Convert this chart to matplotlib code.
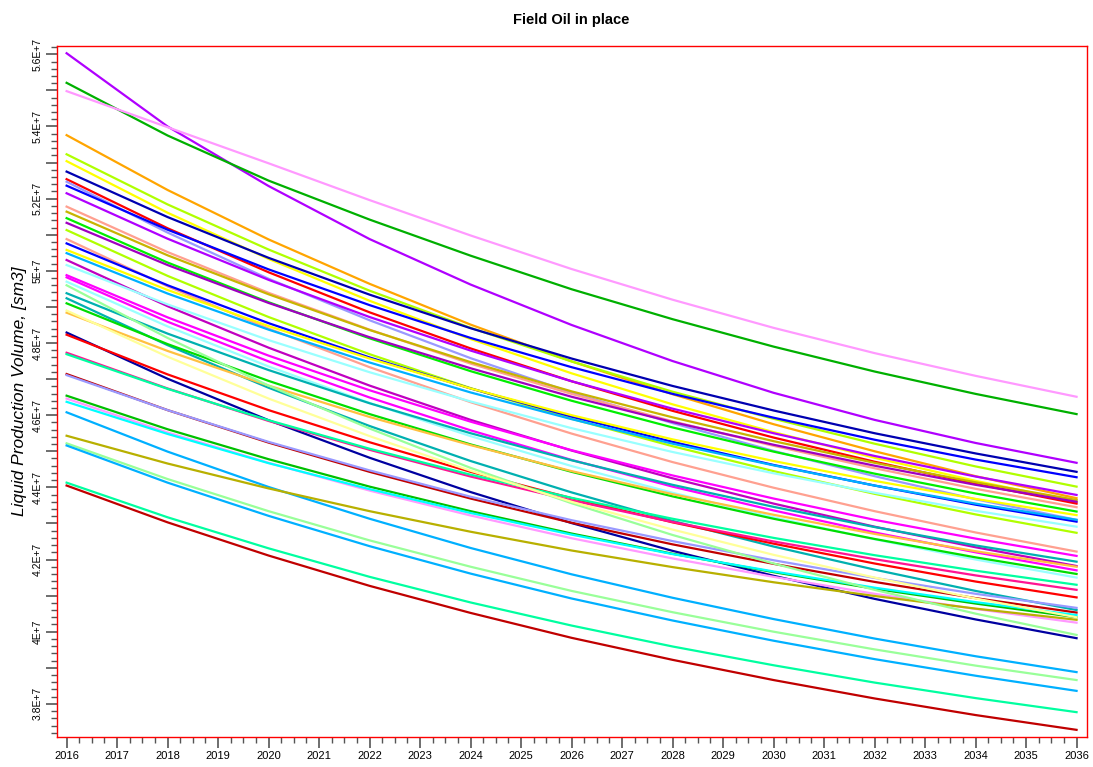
import numpy as np
import matplotlib
matplotlib.use("Agg")
import matplotlib.pyplot as plt
from matplotlib.ticker import MultipleLocator, FuncFormatter

plt.rcParams['font.family'] = ['Liberation Sans', 'DejaVu Sans']

# sample years for every run
years = [2016, 2018, 2020, 2022, 2024, 2026, 2028, 2030, 2032, 2034, 2036]

# oil in place per run, in millions of sm3
run_values = [
    [56.03, 54.00, 52.35, 50.88, 49.62, 48.50, 47.50, 46.62, 45.87, 45.23, 44.68],
    [55.21, 53.75, 52.50, 51.42, 50.42, 49.49, 48.66, 47.90, 47.21, 46.59, 46.03],
    [54.98, 53.98, 52.98, 51.96, 50.98, 50.05, 49.20, 48.42, 47.72, 47.09, 46.51],
    [53.76, 52.24, 50.87, 49.64, 48.51, 47.49, 46.58, 45.75, 45.00, 44.31, 43.70],
    [53.23, 51.84, 50.59, 49.45, 48.42, 47.49, 46.65, 45.90, 45.21, 44.58, 44.02],
    [53.04, 51.61, 50.33, 49.17, 48.11, 47.16, 46.30, 45.53, 44.82, 44.18, 43.60],
    [52.75, 51.49, 50.36, 49.34, 48.41, 47.57, 46.81, 46.13, 45.50, 44.94, 44.43],
    [52.54, 51.18, 49.96, 48.85, 47.85, 46.94, 46.12, 45.38, 44.71, 44.10, 43.55],
    [52.47, 51.06, 49.78, 48.63, 47.58, 46.63, 45.78, 45.01, 44.31, 43.67, 43.10],
    [52.36, 51.14, 50.04, 49.05, 48.14, 47.33, 46.59, 45.93, 45.32, 44.77, 44.28],
    [52.15, 50.89, 49.75, 48.72, 47.79, 46.94, 46.18, 45.50, 44.87, 44.30, 43.79],
    [51.78, 50.52, 49.39, 48.37, 47.43, 46.59, 45.83, 45.15, 44.53, 43.96, 43.45],
    [51.64, 50.43, 49.35, 48.36, 47.47, 46.66, 45.94, 45.28, 44.68, 44.14, 43.65],
    [51.46, 50.23, 49.13, 48.13, 47.22, 46.40, 45.66, 44.99, 44.38, 43.83, 43.33],
    [51.33, 50.16, 49.11, 48.16, 47.30, 46.51, 45.81, 45.18, 44.60, 44.07, 43.60],
    [51.13, 49.86, 48.72, 47.69, 46.75, 45.90, 45.14, 44.45, 43.82, 43.25, 42.74],
    [50.88, 49.57, 48.40, 47.33, 46.36, 45.49, 44.70, 43.99, 43.34, 42.75, 42.22],
    [50.76, 49.60, 48.55, 47.60, 46.74, 45.96, 45.26, 44.62, 44.05, 43.52, 43.05],
    [50.58, 49.47, 48.47, 47.57, 46.74, 46.00, 45.33, 44.73, 44.18, 43.68, 43.23],
    [50.49, 49.37, 48.37, 47.46, 46.63, 45.89, 45.21, 44.61, 44.05, 43.55, 43.10],
    [50.30, 49.02, 47.87, 46.82, 45.87, 45.02, 44.25, 43.55, 42.91, 42.34, 41.82],
    [50.16, 49.07, 48.08, 47.19, 46.38, 45.64, 44.98, 44.39, 43.85, 43.35, 42.91],
    [49.88, 48.71, 47.65, 46.69, 45.82, 45.03, 44.33, 43.69, 43.10, 42.58, 42.10],
    [49.82, 48.59, 47.49, 46.49, 45.58, 44.76, 44.02, 43.36, 42.75, 42.20, 41.70],
    [49.70, 48.46, 47.35, 46.34, 45.42, 44.59, 43.85, 43.17, 42.56, 42.00, 41.50],
    [49.38, 48.26, 47.25, 46.33, 45.50, 44.75, 44.07, 43.46, 42.90, 42.39, 41.94],
    [49.24, 47.94, 46.76, 45.70, 44.73, 43.86, 43.07, 42.36, 41.72, 41.13, 40.60],
    [49.10, 47.97, 46.95, 46.03, 45.19, 44.43, 43.75, 43.13, 42.57, 42.06, 41.60],
    [48.84, 47.78, 46.82, 45.95, 45.17, 44.45, 43.81, 43.24, 42.71, 42.23, 41.80],
    [48.29, 47.01, 45.86, 44.82, 43.87, 43.01, 42.24, 41.55, 40.91, 40.34, 39.82],
    [48.23, 47.13, 46.14, 45.25, 44.43, 43.70, 43.03, 42.44, 41.89, 41.39, 40.95],
    [47.73, 46.74, 45.84, 45.04, 44.30, 43.64, 43.04, 42.50, 42.01, 41.56, 41.16],
    [47.69, 46.73, 45.86, 45.07, 44.35, 43.71, 43.13, 42.60, 42.12, 41.69, 41.30],
    [47.14, 46.14, 45.24, 44.43, 43.69, 43.02, 42.42, 41.88, 41.38, 40.93, 40.53],
    [47.11, 46.14, 45.26, 44.47, 43.74, 43.09, 42.51, 41.98, 41.49, 41.05, 40.66],
    [46.54, 45.61, 44.78, 44.02, 43.34, 42.72, 42.16, 41.65, 41.19, 40.78, 40.40],
    [46.46, 45.52, 44.68, 43.91, 43.22, 42.59, 42.03, 41.52, 41.05, 40.63, 40.25],
    [46.37, 45.48, 44.67, 43.95, 43.29, 42.69, 42.15, 41.67, 41.22, 40.82, 40.46],
    [46.08, 44.99, 44.01, 43.13, 42.32, 41.59, 40.94, 40.35, 39.81, 39.32, 38.88],
    [45.43, 44.66, 43.97, 43.34, 42.77, 42.25, 41.79, 41.37, 40.99, 40.64, 40.33],
    [45.22, 44.23, 43.34, 42.53, 41.80, 41.13, 40.54, 40.00, 39.51, 39.06, 38.66],
    [45.16, 44.13, 43.21, 42.37, 41.61, 40.92, 40.31, 39.75, 39.24, 38.78, 38.36],
    [44.13, 43.17, 42.31, 41.52, 40.81, 40.17, 39.59, 39.07, 38.59, 38.16, 37.77],
    [44.05, 43.03, 42.11, 41.27, 40.52, 39.83, 39.22, 38.66, 38.15, 37.69, 37.28],
    [49.60, 48.14, 46.82, 45.63, 44.54, 43.56, 42.68, 41.89, 41.16, 40.50, 39.91],
    [48.90, 47.62, 46.46, 45.42, 44.46, 43.60, 42.83, 42.13, 41.50, 40.92, 40.40],
]

run_colors = [
    '#b000ff', '#00b000', '#ff99ff', '#ffa500', '#b0ff00', '#ffff00',
    '#0000b0', '#ff0000', '#9999ff', '#0000ff', '#b000ff', '#ffa090',
    '#c8b400', '#00ee00', '#a000c0', '#b0ff00', '#ffa090', '#0000ff',
    '#ffff00', '#00b0ff', '#c000c0', '#99ffff', '#ff00ff', '#ff00ff',
    '#99ffff', '#00b0b0', '#00b0b0', '#00dd00', '#ffc040', '#0000a0',
    '#ff0000', '#ff1493', '#00ffa0', '#c00000', '#9999ff', '#00c000',
    '#ff99ff', '#00ffff', '#00b0ff', '#b8b000', '#99ff99', '#00b0ff',
    '#00ffa0', '#c00000', '#99ff99', '#ffff99',
]

fig = plt.figure(figsize=(10.93, 7.67), dpi=100)
ax = fig.add_axes([0.0517, 0.0395, 0.9425, 0.9005])

for vals, col in zip(run_values, run_colors):
    ax.plot(years, np.array(vals) * 1e6, color=col, lw=1.6)

ax.set_xlim(2015.8, 2036.2)
ax.set_ylim(3.709e7, 5.623e7)

for s in ax.spines.values():
    s.set_color('red')
    s.set_linewidth(1)

ax.xaxis.set_major_locator(MultipleLocator(1))
ax.xaxis.set_minor_locator(MultipleLocator(0.25))
ax.xaxis.set_major_formatter(FuncFormatter(lambda v, p: f"{int(round(v))}"))
ax.yaxis.set_major_locator(MultipleLocator(1e6))
ax.yaxis.set_minor_locator(MultipleLocator(2e5))


def yfmt(v, p):
    m = int(round(v / 1e6))
    if m % 2:
        return ''
    return f"{v / 1e7:g}E+7"


ax.yaxis.set_major_formatter(FuncFormatter(yfmt))
ax.tick_params(axis='x', which='major', length=8, width=1.2, color='#555555',
               labelsize=8, pad=2)
ax.tick_params(axis='x', which='minor', length=4, width=1, color='#555555')
ax.tick_params(axis='y', which='major', length=8, width=1.2, color='#555555',
               labelsize=7.5, pad=2)
ax.tick_params(axis='y', which='minor', length=4, width=1, color='#555555')
for lab in ax.get_yticklabels():
    lab.set_rotation(90)
    lab.set_va('center')

ax.set_ylabel('Liquid Production Volume, [sm3]', fontsize=12.5, style='italic',
              labelpad=4)
ax.set_title('Field Oil in place', fontsize=10.5, fontweight='bold', pad=16)

fig.savefig('out.png', dpi=100)
